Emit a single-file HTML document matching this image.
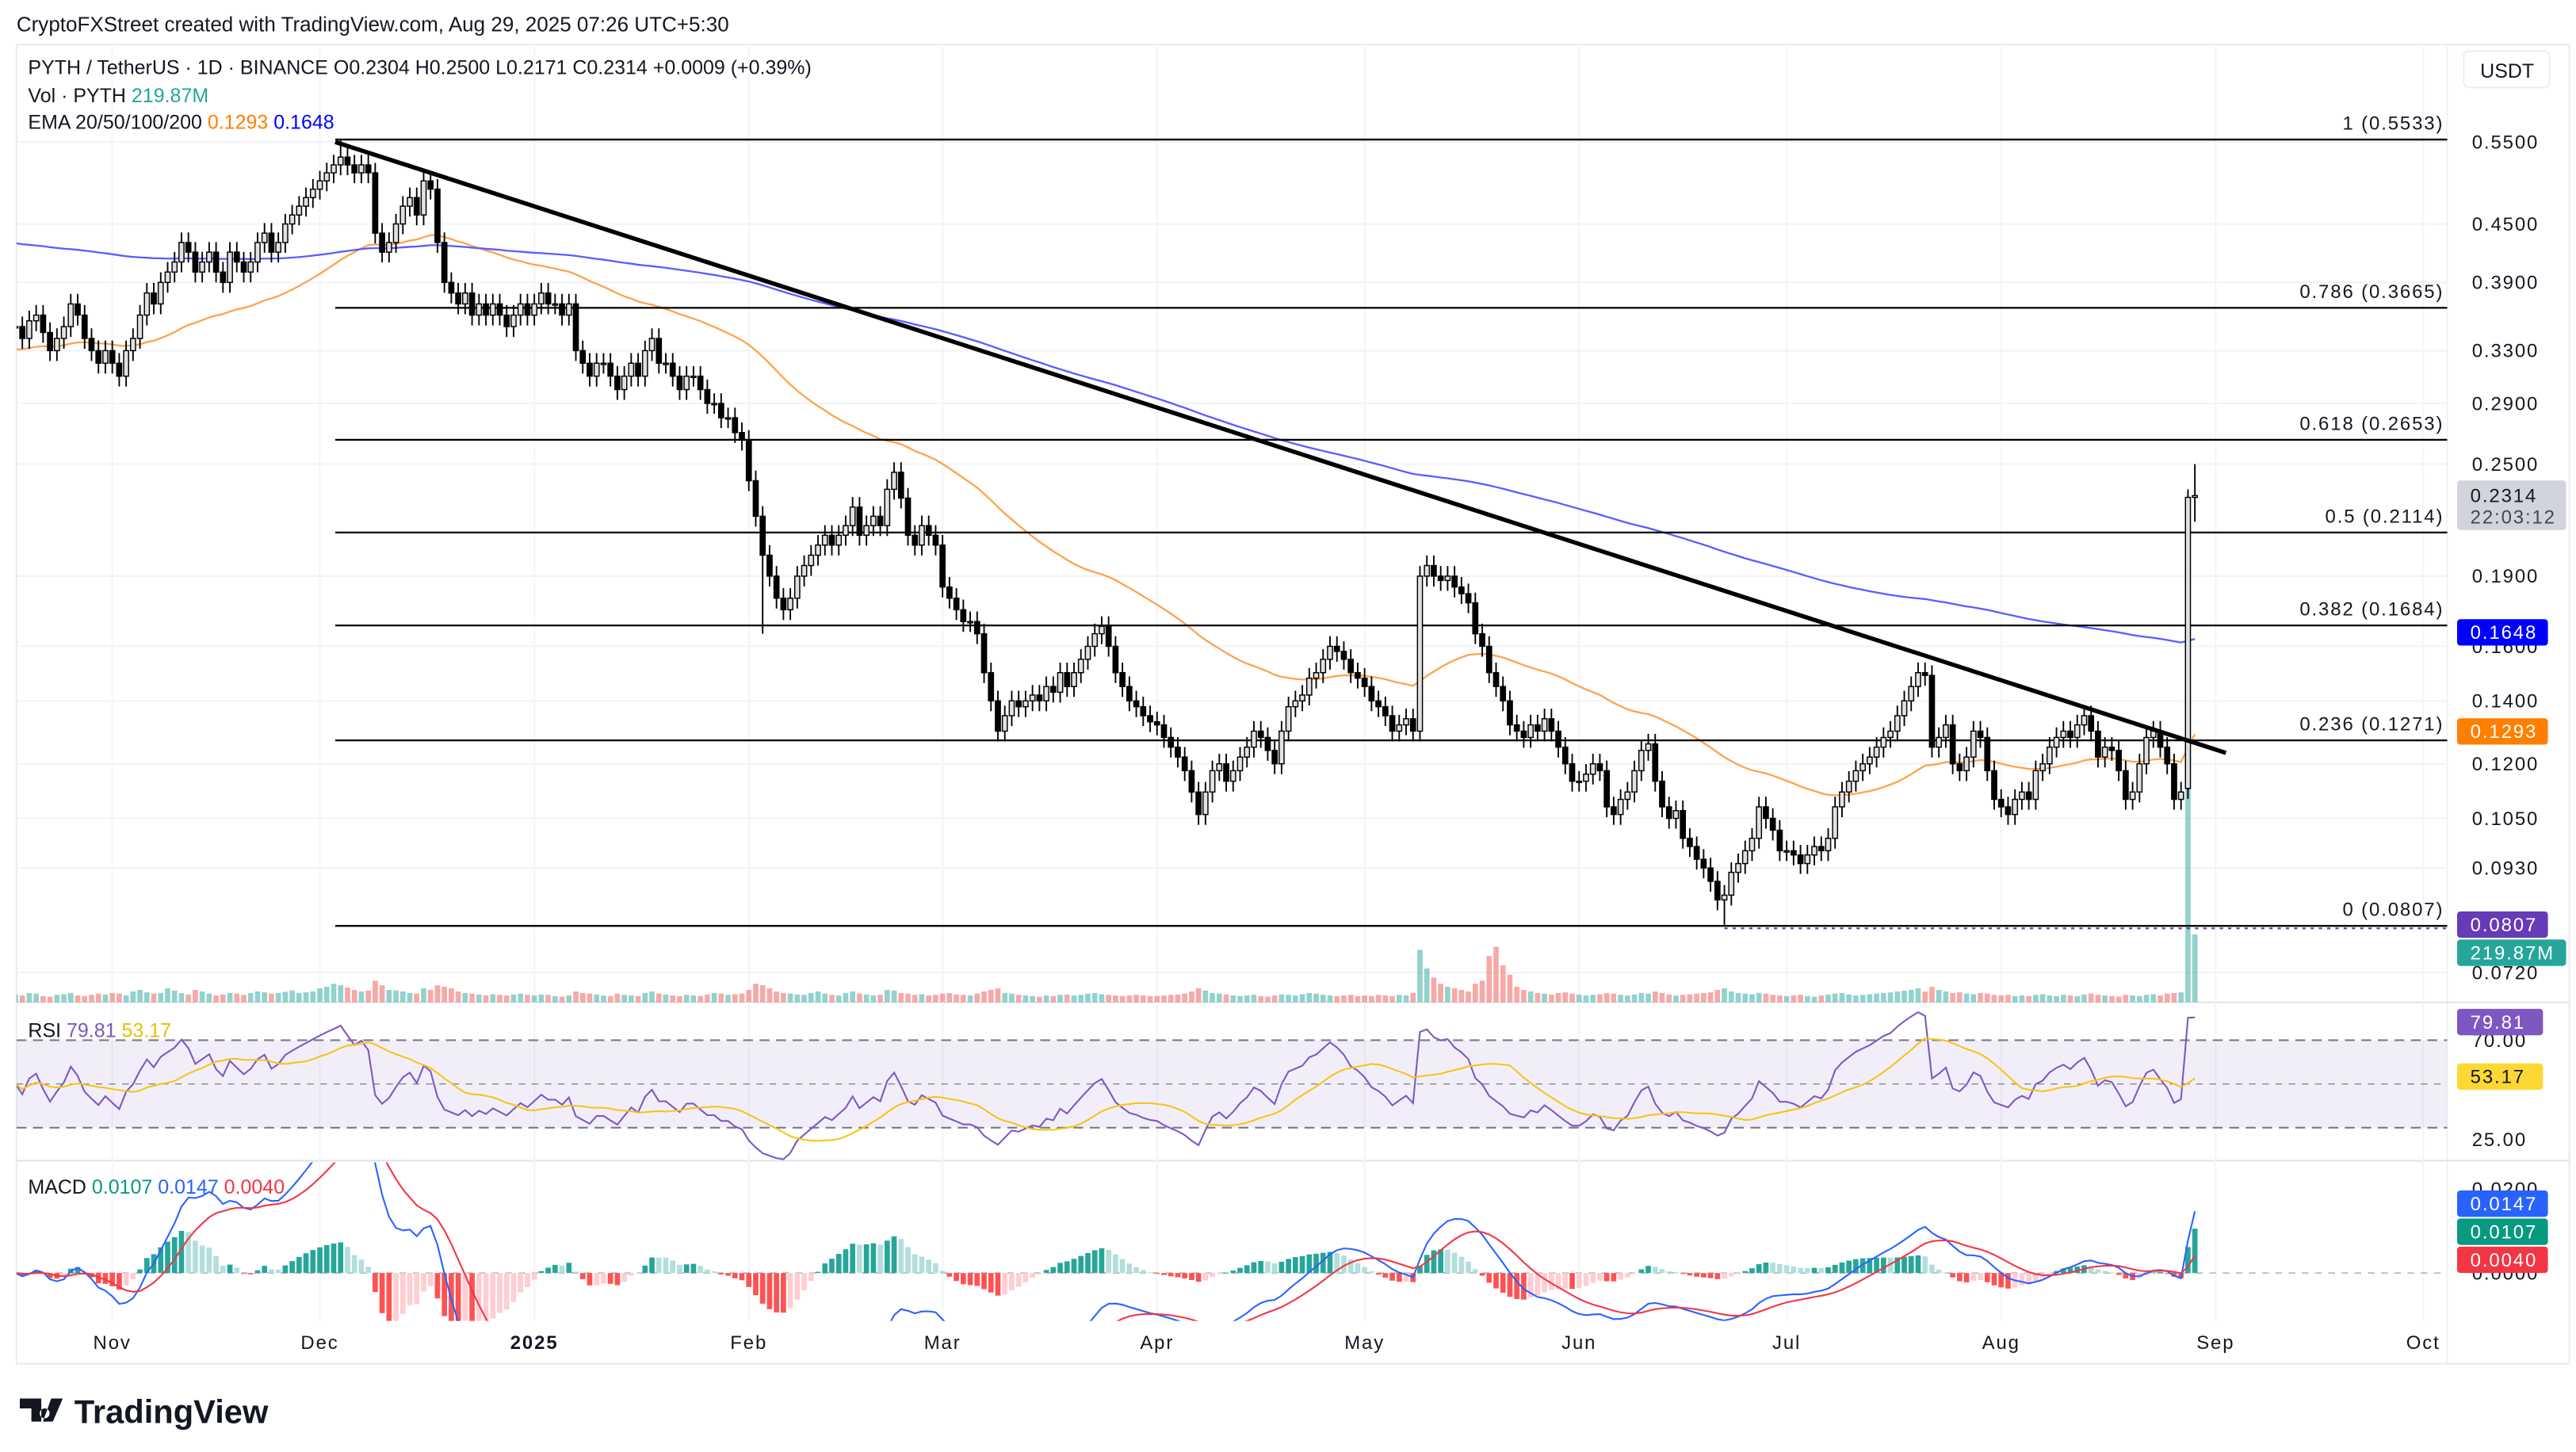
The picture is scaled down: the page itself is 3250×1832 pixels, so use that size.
<!DOCTYPE html>
<html><head><meta charset="utf-8"><title>PYTH / TetherUS chart</title>
<style>
html,body{margin:0;padding:0;background:#fff;}
svg{display:block;}
text{font-family:"Liberation Sans",sans-serif;}
.ax{font-size:11.5px;fill:#131722;letter-spacing:0.9px;}
.lg{font-size:12px;fill:#131722;}
</style></head>
<body>
<svg id="chart" width="3250" height="1832" viewBox="0 0 1560 879.4" preserveAspectRatio="none" xmlns="http://www.w3.org/2000/svg">
<defs>
<clipPath id="cpMain"><rect x="10" y="28" width="1472" height="579"/></clipPath>
<clipPath id="cpRsi"><rect x="10" y="608" width="1472" height="95"/></clipPath>
<clipPath id="cpMacd"><rect x="10" y="704" width="1472" height="96"/></clipPath>
</defs>
<rect x="0" y="0" width="1560" height="879.4" fill="#fff"/>
<text x="10" y="19" style="font-size:12.5px" fill="#131722">CryptoFXStreet created with TradingView.com, Aug 29, 2025 07:26 UTC+5:30</text>
<rect x="10" y="27" width="1546" height="799" fill="none" stroke="#e9ebf0" stroke-width="1"/>
<line x1="1482" y1="27" x2="1482" y2="826" stroke="#f0f2f5"/>
<line x1="10" y1="607" x2="1556" y2="607" stroke="#e0e3eb"/>
<line x1="10" y1="703" x2="1556" y2="703" stroke="#e0e3eb"/>
<g id="grid"></g>
<g id="vol" clip-path="url(#cpMain)"></g>
<g id="ema" clip-path="url(#cpMain)"></g>
<g id="fib"></g>
<g id="candles" clip-path="url(#cpMain)"></g>
<line x1="203" y1="86" x2="1348" y2="456" stroke="#000" stroke-width="2.6"/>
<g id="rsi" clip-path="url(#cpRsi)"></g>
<g id="macd" clip-path="url(#cpMacd)"></g>
<g id="axis"></g>
<g id="tags"></g>
<text x="17" y="45" class="lg">PYTH / TetherUS · 1D · BINANCE  O0.2304  H0.2500  L0.2171  C0.2314  +0.0009 (+0.39%)</text>
<text x="17" y="62" class="lg">Vol · PYTH  <tspan fill="#26a69a">219.87M</tspan></text>
<text x="17" y="78" class="lg">EMA 20/50/100/200  <tspan fill="#ff7f00">0.1293</tspan>  <tspan fill="#0000ff">0.1648</tspan></text>
<text x="17" y="628" class="lg">RSI  <tspan fill="#7e57c2">79.81</tspan>  <tspan fill="#e6c300">53.17</tspan></text>
<text x="17" y="723" class="lg">MACD  <tspan fill="#089981">0.0107</tspan>  <tspan fill="#2962ff">0.0147</tspan>  <tspan fill="#f23645">0.0040</tspan></text>
<g><rect x="1492" y="31" width="52" height="22" rx="3" fill="#fff" stroke="#eceef2"/><text x="1502" y="47" style="font-size:12px" fill="#131722">USDT</text></g>
<g>
<path d="M12 847h13v14h-6v-8h-7z M27 853a3 3 0 1 0 0.1 0z M31 847h7l-6 14h-6z" fill="#131722"/>
<text x="45" y="862" style="font-size:20px;font-weight:bold" fill="#131722">TradingView</text>
</g>
</svg>
<script>
// ===== data =====
const startDate = "2024-10-18";
const closes = [
0.35,0.34,0.355,0.36,0.345,0.33,0.34,0.35,0.37,0.36,0.34,0.33,0.32,0.33,
0.32,0.31,0.33,0.34,0.36,0.38,0.37,0.39,0.40,0.41,0.43,0.42,0.40,0.41,0.42,0.40,0.39,0.42,0.41,0.40,0.41,0.43,0.44,0.42,0.43,0.45,0.46,0.47,0.48,0.49,
0.50,0.51,0.52,0.53,0.52,0.51,0.52,0.51,0.44,0.42,0.43,0.45,0.47,0.48,0.46,0.50,0.49,0.43,0.39,0.38,0.37,0.38,0.36,0.37,0.36,0.37,0.36,0.35,0.36,0.37,0.36,
0.37,0.38,0.37,0.37,0.36,0.37,0.33,0.32,0.31,0.32,0.32,0.31,0.30,0.31,0.32,0.31,0.33,0.34,0.32,0.32,0.31,0.30,0.31,0.31,0.30,0.29,0.29,0.28,0.28,0.27,0.265,
0.24,0.22,0.20,0.19,0.18,0.175,0.18,0.19,0.195,0.20,0.205,0.21,0.205,0.21,0.215,0.225,0.21,0.215,0.22,0.215,0.235,0.245,0.23,0.21,0.205,0.215,0.21,0.205,
0.185,0.18,0.175,0.17,0.17,0.165,0.15,0.14,0.13,0.135,0.14,0.138,0.14,0.142,0.14,0.145,0.143,0.15,0.145,0.15,0.155,0.16,0.165,0.168,0.16,0.15,0.145,0.14,0.138,0.135,0.133,
0.132,0.128,0.125,0.122,0.118,0.112,0.106,0.112,0.118,0.12,0.115,0.118,0.122,0.125,0.13,0.128,0.124,0.12,0.13,0.138,0.14,0.142,0.148,0.15,0.155,0.16,0.158,0.155,0.15,0.148,
0.145,0.14,0.138,0.135,0.13,0.132,0.134,0.13,0.19,0.195,0.19,0.188,0.19,0.185,0.182,0.178,0.165,0.16,0.15,0.145,0.14,0.132,0.13,0.128,0.132,0.13,0.134,0.13,0.125,0.12,0.115,
0.115,0.117,0.12,0.118,0.108,0.106,0.11,0.112,0.118,0.124,0.126,0.115,0.108,0.105,0.107,0.1,0.098,0.095,0.093,0.09,0.086,0.087,0.092,0.094,0.097,0.1,0.108,0.105,0.102,0.097,
0.097,0.096,0.094,0.096,0.098,0.097,0.1,0.108,0.112,0.115,0.118,0.12,0.122,0.125,0.128,0.13,0.135,0.14,0.145,0.15,0.149,0.125,0.128,0.132,0.12,0.118,0.122,0.13,0.128,0.118,0.11,
0.108,0.106,0.11,0.112,0.11,0.118,0.12,0.125,0.128,0.13,0.128,0.132,0.135,0.13,0.122,0.125,0.124,0.118,0.11,0.112,0.12,0.128,0.13,0.125,0.12,0.11,0.112,0.2304,0.2314
];
const opensOverride = {314:0.113, 315:0.2304};
const highsOverride = {47:0.5533, 314:0.235, 315:0.25};
const lowsOverride = {108:0.165, 247:0.0807, 315:0.2171};
const volumesM = [
25,22,30,28,20,18,24,26,30,22,20,24,28,25,
30,28,22,35,40,32,28,30,45,38,30,25,40,35,28,22,25,30,28,24,30,35,32,28,30,34,38,30,32,35,
45,50,60,55,48,40,35,38,70,55,40,38,35,30,28,45,40,55,50,45,35,30,28,25,22,26,24,22,25,28,24,
22,25,24,20,18,22,35,30,28,25,22,20,28,24,22,20,30,35,28,25,22,20,24,22,20,25,30,28,24,26,28,
40,60,55,45,35,30,28,25,24,30,35,28,24,22,30,35,28,25,22,24,40,38,30,28,24,26,22,24,
28,30,25,24,22,28,35,40,45,30,28,24,22,20,18,22,20,24,25,22,24,28,30,26,24,22,20,22,24,22,20,
20,22,24,25,28,35,45,38,30,28,25,22,20,22,24,20,18,22,25,24,22,26,30,28,24,22,20,22,24,20,
22,20,24,22,20,24,22,30,170,110,80,60,50,45,40,35,60,70,150,180,120,90,50,40,35,30,28,25,30,32,28,
25,22,24,26,30,28,24,22,25,30,28,35,30,25,22,24,26,28,30,32,40,45,35,30,28,26,30,28,24,22,
20,22,24,20,18,22,25,28,30,25,22,24,26,28,30,32,35,38,40,45,35,50,40,35,30,32,28,26,30,28,24,
22,24,20,22,20,24,26,22,20,24,22,20,25,28,24,22,20,18,24,22,20,24,26,22,28,30,32,708,219.87
];
const priceTicks = [0.55,0.45,0.39,0.33,0.29,0.25,0.19,0.16,0.14,0.12,0.105,0.093,0.072];
const fibLevels = ["1","0.786","0.618","0.5","0.382","0.236","0"];
const fibPrices = [0.5533,0.3665,0.2653,0.2114,0.1684,0.1271,0.0807];
const monthLabels = ["Nov","Dec","2025","Feb","Mar","Apr","May","Jun","Jul","Aug","Sep","Oct"];
const monthDates = ["2024-11-01","2024-12-01","2025-01-01","2025-02-01","2025-03-01","2025-04-01","2025-05-01","2025-06-01","2025-07-01","2025-08-01","2025-09-01","2025-10-01"];
const ema50Seed = 0.33, ema200Seed = 0.43;

// ===== scales =====
const NS="http://www.w3.org/2000/svg";
const DAY=86400000, t0=Date.parse(startDate+"T00:00:00Z");
const PXDAY=4.19, X_NOV1=68;
const dayIndex = d => Math.round((Date.parse(d+"T00:00:00Z")-t0)/DAY);
const xOf = i => X_NOV1 + (i - dayIndex("2024-11-01"))*PXDAY;
const yP = p => 86 + (Math.log10(0.55) - Math.log10(p))*569.6;
const yR = v => 630 + (70 - v)*1.325;
const yM = v => 771 - v*2550;
const yV = v => 607 - v*0.1865;
function el(tag, attrs, parent){const e=document.createElementNS(NS,tag);for(const k in attrs)e.setAttribute(k,attrs[k]);parent.appendChild(e);return e;}
const G = id => document.getElementById(id);

// OHLC
const N=closes.length;
const opens=[],highs=[],lows=[];
for(let i=0;i<N;i++){
  const o = opensOverride[i]!==undefined?opensOverride[i]:(i?closes[i-1]:closes[0]);
  opens.push(o);
  highs.push(highsOverride[i]!==undefined?highsOverride[i]:Math.max(o,closes[i])*1.025);
  lows.push(lowsOverride[i]!==undefined?lowsOverride[i]:Math.min(o,closes[i])*0.975);
}

// grid
const grid=G("grid");
priceTicks.forEach(p=>{const l=el("line",{x1:10,x2:1482,y1:yP(p),y2:yP(p),stroke:"#f2f3f6"},grid);

});
monthDates.forEach(d=>{const x=xOf(dayIndex(d));const l=el("line",{x1:x,x2:x,y1:28,y2:800,stroke:"#f4f5f8"},grid);

});

// volume
const vol=G("vol");
for(let i=0;i<N;i++){
  const up=closes[i]>=opens[i];
  const r=el("rect",{x:xOf(i)-1.6,y:yV(volumesM[i]),width:3.2,height:607-yV(volumesM[i]),fill:up?"rgba(38,166,154,0.5)":"rgba(239,83,80,0.5)"},vol);
  
  
}

// EMA
function ema(arr,n,seed){const k=2/(n+1);let e=seed;return arr.map(v=>(e=v*k+e*(1-k)));}
const e50=ema(closes,50,ema50Seed), e200=ema(closes,200,ema200Seed);
const pathOf=(arr,fy)=>arr.map((v,i)=>(i?"L":"M")+xOf(i).toFixed(1)+" "+fy(v).toFixed(1)).join("");
const em=G("ema");
const p50=el("path",{d:pathOf(e50,yP),fill:"none",stroke:"#ffa24c",'stroke-width':1.1},em);


const p200=el("path",{d:pathOf(e200,yP),fill:"none",stroke:"#5b5bff",'stroke-width':1.1},em);



// fib
const fib=G("fib");
fibPrices.forEach((p,k)=>{
  const y=yP(p);
  const l=el("line",{x1:203,x2:1482,y1:y,y2:y,stroke:"#000",'stroke-width':1.1},fib);
  
  
  const t=el("text",{x:1480,y:y-6,'text-anchor':'end',class:'ax'},fib);
  t.textContent=fibLevels[k]+" ("+p.toFixed(4)+")";
  
  
});
const dl=el("line",{x1:xOf(247),x2:1482,y1:yP(0.0807)+1.5,y2:yP(0.0807)+1.5,stroke:"#673ab7",'stroke-width':1,'stroke-dasharray':'2 3'},fib);



// candles
const cg=G("candles");
for(let i=0;i<N;i++){
  const x=xOf(i),o=opens[i],c=closes[i],up=c>=o;
  const w=el("line",{x1:x,x2:x,y1:yP(highs[i]),y2:yP(lows[i]),stroke:"#000",'stroke-width':0.9},cg);
  
  
  const top=yP(Math.max(o,c)),bot=yP(Math.min(o,c));
  const b=el("rect",{x:x-1.5,y:top,width:3,height:Math.max(0.8,bot-top),fill:up?"#dfe1e6":"#000",stroke:"#000",'stroke-width':0.7},cg);
  
  
}

// RSI
const rg=G("rsi");
const band=el("rect",{x:10,y:yR(70),width:1472,height:yR(30)-yR(70),fill:"rgba(126,87,194,0.1)"},rg);


[70,50,30].forEach(v=>{const l=el("line",{x1:10,x2:1482,y1:yR(v),y2:yR(v),stroke:"#787b86",'stroke-dasharray':v==50?'4 4':'6 4','stroke-width':v==50?0.6:1},rg);

});
const rsi=[];let ag=0.004,al=0.004;
for(let i=0;i<N;i++){const ch=i?closes[i]-closes[i-1]:0;ag=(ag*13+Math.max(ch,0))/14;al=(al*13+Math.max(-ch,0))/14;rsi.push(100-100/(1+ag/al));}
const rsiMa=rsi.map((v,i)=>{const s=rsi.slice(Math.max(0,i-13),i+1);return s.reduce((a,b)=>a+b,0)/s.length;});
const rl=el("path",{d:pathOf(rsi,yR),fill:"none",stroke:"#7e57c2",'stroke-width':1},rg);


const rm=el("path",{d:pathOf(rsiMa,yR),fill:"none",stroke:"#f5c518",'stroke-width':1},rg);



// MACD
const mg=G("macd");
const z=el("line",{x1:10,x2:1482,y1:yM(0),y2:yM(0),stroke:"#b2b5be",'stroke-dasharray':'4 4','stroke-width':0.8},mg);


const e12=ema(closes,12,closes[0]),e26=ema(closes,26,closes[0]);
const macd=e12.map((v,i)=>v-e26[i]);
const sig=ema(macd,9,0);
const hist=macd.map((v,i)=>v-sig[i]);
for(let i=0;i<N;i++){
  const h=hist[i],prev=i?hist[i-1]:0;
  const col=h>=0?(h>=prev?"#26a69a":"#b2dfdb"):(h<prev?"#ff5252":"#ffcdd2");
  const y1=yM(Math.max(h,0)),y2=yM(Math.min(h,0));
  const r=el("rect",{x:xOf(i)-1.6,y:y1,width:3.2,height:Math.max(0.5,y2-y1),fill:col},mg);
  
  
}
const ml=el("path",{d:pathOf(macd,yM),fill:"none",stroke:"#2962ff",'stroke-width':1},mg);


const sl=el("path",{d:pathOf(sig,yM),fill:"none",stroke:"#f23645",'stroke-width':1},mg);



// axes
const ax=G("axis");
priceTicks.forEach(p=>{const t=el("text",{x:1497,y:yP(p)+4,class:'ax'},ax);t.textContent=p.toFixed(4);

});
[["70.00",yR(70)],["25.00",690],["0.0200",yM(0.02)],["0.0000",yM(0)]].forEach(a=>{const t=el("text",{x:1497,y:a[1]+4,class:'ax'},ax);t.textContent=a[0];

});
monthLabels.forEach((m,k)=>{const t=el("text",{x:xOf(dayIndex(monthDates[k])),y:817,'text-anchor':'middle',class:'ax',style:m=="2025"?"font-weight:bold":""},ax);t.textContent=m;

});

// tags
const tg=G("tags");
function tag(label,yc,bg,fg,w,name){
  const r=el("rect",{x:1488,y:yc-8,width:w,height:16,rx:2,fill:bg},tg);
  
  
  const t=el("text",{x:1496,y:yc+4,class:'ax',fill:fg,style:'fill:'+fg},tg);t.textContent=label;
  
  
}
const pr=el("rect",{x:1488,y:291,width:66,height:30,rx:2,fill:"#d1d4dc"},tg);


const pt1=el("text",{x:1496,y:304,class:'ax'},tg);pt1.textContent="0.2314";


const pt2=el("text",{x:1496,y:317,class:'ax',style:'fill:#434651'},tg);pt2.textContent="22:03:12";


tag("0.1648",383,"#0000ff","#fff",55,"ema200-tag");
tag("0.1293",443,"#ff7f00","#fff",55,"ema50-tag");
tag("0.0807",560,"#673ab7","#fff",55,"low-tag");
tag("219.87M",577,"#26a69a","#fff",66,"volume-tag");
tag("79.81",619,"#7e57c2","#fff",52,"rsi-tag");
tag("53.17",652,"#fdd835","#131722",52,"rsi-ma-tag");
tag("0.0147",729,"#2962ff","#fff",55,"macd-tag");
tag("0.0107",746,"#089981","#fff",55,"histogram-tag");
tag("0.0040",763,"#f23645","#fff",55,"signal-tag");
</script>
</body></html>
